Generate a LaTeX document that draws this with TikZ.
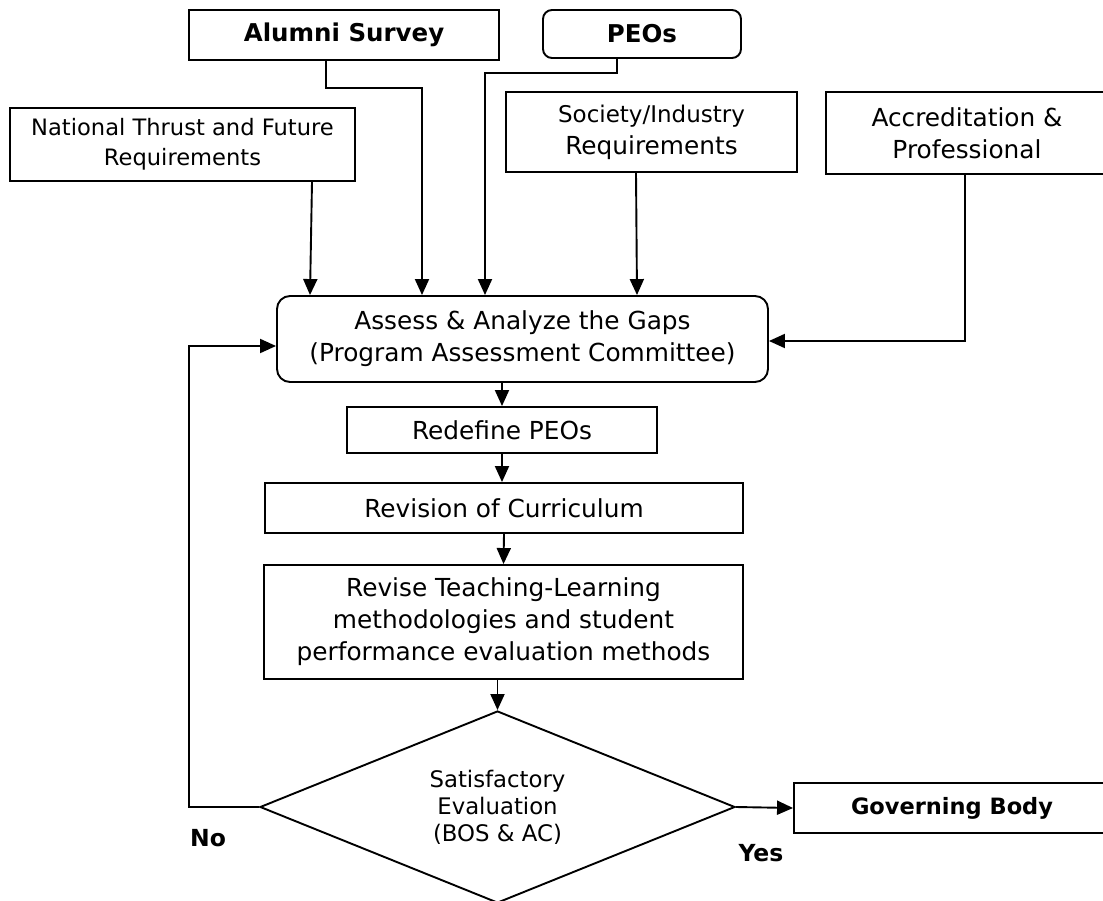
\documentclass[tikz,border=0pt]{standalone}
\usepackage{fontspec}
\setmainfont{DejaVu Sans}
\usepackage{tikz}
\usetikzlibrary{arrows.meta,shapes.geometric}

\begin{document}
\begin{tikzpicture}[x=1pt,y=-1pt,line width=1.9pt,
            box/.style={draw,inner sep=0pt,align=center,font=\fontsize{24.8}{32}\selectfont},
            smallbox/.style={box,font=\fontsize{22.6}{30}\selectfont},
            boldbox/.style={box,font=\fontsize{24.5}{30}\selectfont\bfseries},
            arr/.style={-{Triangle[length=16pt,width=14pt]}},
            lbl/.style={inner sep=0pt,font=\fontsize{23.5}{30}\selectfont\bfseries}]
            \path[use as bounding box,clip] (0,0) rectangle (1103,901);

            \node[boldbox,minimum width=310pt,minimum height=50pt] (alumni) at (344,35) {Alumni Survey};
            \node[boldbox,rounded corners=9pt,minimum width=198pt,minimum height=48pt] (peos) at (642,34) {PEOs};
            \node[smallbox,minimum width=345pt,minimum height=73pt] (national) at (182.5,144.5) {National Thrust and Future\\Requirements};
            \node[box,minimum width=291pt,minimum height=80pt] (society) at (651.5,132) {{\fontsize{23}{27}\selectfont Society/Industry}\\Requirements};
            \node[box,minimum width=282pt,minimum height=82pt] (accred) at (967,133) {Accreditation \&\\Professional};

            \node[box,rounded corners=13pt,minimum width=491pt,minimum height=86pt] (assess) at (522.5,339) {Assess \& Analyze the Gaps\\(Program Assessment Committee)};
            \node[box,minimum width=310pt,minimum height=46pt] (redefine) at (502,430) {Redefine PEOs};
            \node[box,minimum width=478pt,minimum height=50pt] (revision) at (504,508) {Revision of Curriculum};
            \node[box,minimum width=479pt,minimum height=114pt] (revise) at (503.5,622) {Revise Teaching-Learning\\methodologies and student\\performance evaluation methods};
            \node[draw,diamond,aspect=2.47,inner sep=0pt,minimum width=475pt,minimum height=192pt,align=center,font=\fontsize{22.8}{27}\selectfont] (decision) at (497.5,807) {Satisfactory\\Evaluation\\(BOS \& AC)};
            \node[boldbox,font=\fontsize{22.5}{30}\selectfont\bfseries,minimum width=316pt,minimum height=50pt] (governing) at (952,808) {Governing Body};
            \node[lbl] (no) at (208,838) {No};
            \node[lbl] (yes) at (761,853) {Yes};

            \draw[arr] ([xshift=129.5pt]national.south) -- ([xshift=-212.5pt]assess.north);
            \draw[arr] ([xshift=-18pt]alumni.south) -- ++(0,27) -| ([xshift=-100.5pt]assess.north);
            \draw[arr] ([xshift=-25pt]peos.south) -- ++(0,14) -| ([xshift=-37.5pt]assess.north);
            \draw[arr] ([xshift=-15.5pt]society.south) -- ([xshift=114.5pt]assess.north);
            \draw[arr] ([xshift=-2pt]accred.south) |- ([yshift=-2pt]assess.east);
            \draw[arr] (decision.west) -- ++(-70,0) |- ([yshift=-7pt]assess.west);
            \draw[arr] (assess.south -| redefine.north) -- (redefine.north);
            \draw[arr] (redefine.south) -- (redefine.south |- revision.north);
            \draw[arr] (revision.south) -- (revise.north);
            \draw[arr] (revise.south -| decision.north) -- (decision.north);
            \draw[arr] (decision.east) -- (governing.west);
        \end{tikzpicture}
\end{document}
